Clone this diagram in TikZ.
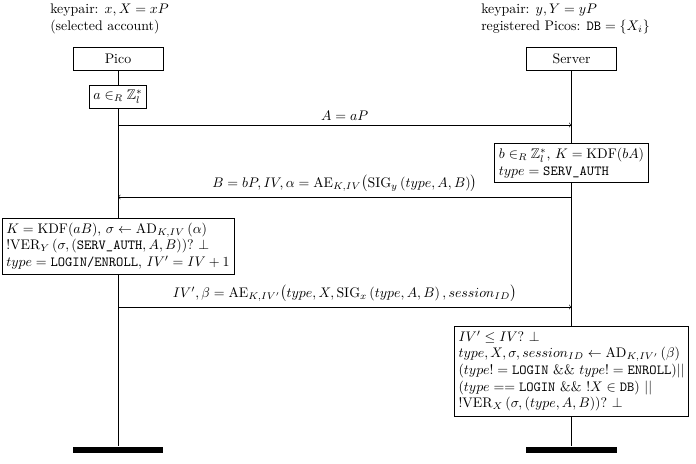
\documentclass[tikz,border=0pt]{standalone}
\usepackage{amsmath}
\usepackage{amssymb}
\usepackage{xcolor}
\usepackage{tikz}

\begin{document}
\begin{tikzpicture}[
    x=0.72pt, y=-0.72pt,
    actor/.style={rectangle, draw, minimum width=65pt, minimum height=16.5pt, text centered},
    note/.style={rectangle, draw, fill=white, align=left, inner xsep=3pt, inner ysep=3.5pt},
    keyinfo/.style={align=left, anchor=north west, inner sep=0pt},
    endbar/.style={rectangle, fill=black, minimum width=65pt, minimum height=5pt, inner sep=0pt}
]
    \useasboundingbox (0,0) rectangle (696,464);

    \node[keyinfo] (pkeys) at (50,4) {keypair: $x, X = xP$\\(selected account)};
    \node[keyinfo] (skeys) at (481,4) {keypair: $y, Y = yP$\\registered Picos: $\texttt{DB} = \{X_i\}$};

    \node[actor] (pico) at (118,59) {Pico};
    \node[actor] (server) at (571.5,59) {Server};
    \node[endbar] (picoend) at (118,450) {};
    \node[endbar] (serverend) at (571.5,450) {};

    \draw (pico) -- (picoend);
    \draw (server) -- (serverend);

    \node[note] (pgen) at (118,97) {$a \in_R \mathbb{Z}_l^*$};
    \node[note] (sgen) at (571.5,163) {$b \in_R \mathbb{Z}_l^*$, $K = \mathrm{KDF}(bA)$\\$type = \texttt{SERV\_AUTH}$};
    \node[note] (pcheck) at (118,246) {$K = \mathrm{KDF}(aB)$, $\sigma \leftarrow \mathrm{AD}_{K,IV}\left(\alpha\right)$\\
        $!\mathrm{VER}_Y\left(\sigma, (\texttt{SERV\_AUTH}, A, B)\right)?\ \bot$\\
        $type = \texttt{LOGIN/ENROLL}$, $IV' = IV + 1$};
    \node[note] (scheck) at (571.5,371) {$IV' \leq IV?\ \bot$\\
        $type, X, \sigma, session_{ID} \leftarrow \mathrm{AD}_{K,IV'}\left(\beta\right)$\\
        $(type! = \texttt{LOGIN}$ \&\& $type! = \texttt{ENROLL})||$\\
        $(type == \texttt{LOGIN}$ \&\& $!X \in \texttt{DB})\ ||$\\
        $!\mathrm{VER}_X\left(\sigma, (type, A, B)\right)?\ \bot$};

    \coordinate (pa) at (118,125);
    \coordinate (sa) at (571.5,125);
    \coordinate (pb) at (118,197);
    \coordinate (sb) at (571.5,197);
    \coordinate (pc) at (118,307);
    \coordinate (sc) at (571.5,307);

    \draw[->] (pa) -- node[above] {$A = aP$} (sa);
    \draw[->] (sb) -- node[above] {$B = bP, IV, \alpha = \mathrm{AE}_{K,IV}\bigl(\mathrm{SIG}_y\left(type, A, B\right)\bigr)$} (pb);
    \draw[->] (pc) -- node[above] {$IV', \beta = \mathrm{AE}_{K,IV'}\bigl(type, X, \mathrm{SIG}_x\left(type, A, B\right), session_{ID}\bigr)$} (sc);
\end{tikzpicture}
\end{document}
